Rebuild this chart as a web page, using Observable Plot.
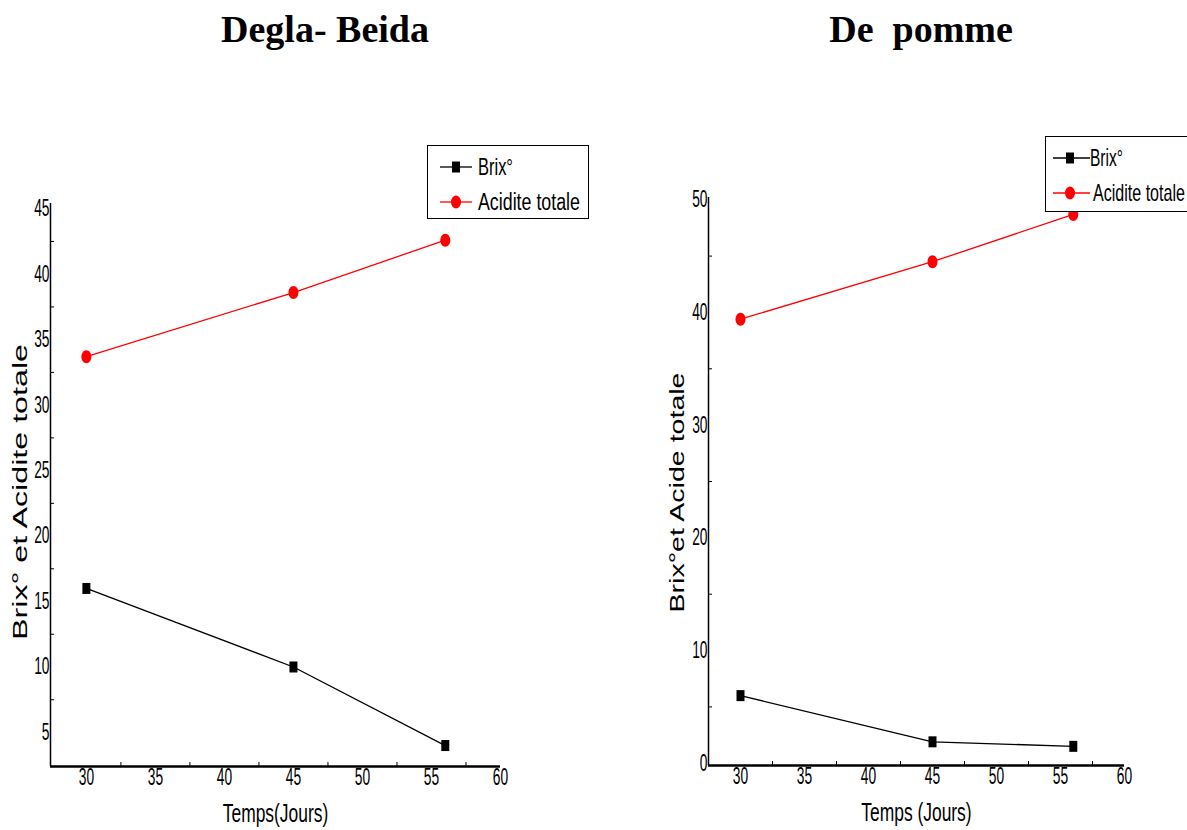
<!DOCTYPE html>
<html>
<head>
<meta charset="utf-8">
<script src="https://cdn.jsdelivr.net/npm/d3@7"></script>
<script src="https://cdn.jsdelivr.net/npm/@observablehq/plot@0.6"></script>
<style>
  html, body { margin: 0; padding: 0; background: #fff; }
  #root { position: relative; width: 1187px; height: 830px; overflow: hidden; background: #fff; }
  .panel { position: absolute; top: 0; }
  .title { position: absolute; top: 10px; line-height: 38px; font-family: "Liberation Serif", "DejaVu Serif", serif; font-weight: bold; font-size: 38px; color: #000; white-space: pre; transform: translateX(-50%); }
  .legend { position: absolute; }
</style>
</head>
<body>
<div id="root"></div>
<script>
// ---- data ----
const days = [30, 45, 56];
const deglaBrix = [16.0, 10.0, 4.0];
const deglaAcid = [33.7, 38.6, 42.6];
const pommeBrix = [6.0, 1.9, 1.5];
const pommeAcid = [39.4, 44.5, 48.7];
const xTicks = [30, 35, 40, 45, 50, 55, 60];
const xMinor = [32.5, 37.5, 42.5, 47.5, 52.5, 57.5];
const deglaYTicks = [5, 10, 15, 20, 25, 30, 35, 40, 45];
const deglaYMinor = [7.5, 12.5, 17.5, 22.5, 27.5, 32.5, 37.5, 42.5];
const pommeYTicks = [0, 10, 20, 30, 40, 50];
const pommeYMinor = [5, 15, 25, 35, 45];
const seriesNames = ["Brix°", "Acidite totale"];
const titles = ["Degla- Beida", "De  pomme"];
const yLabels = ["Brix° et Acidite totale", "Brix°et Acide totale"];
const xLabels = ["Temps(Jours)", "Temps (Jours)"];

const sans = "'Liberation Sans', Arial, sans-serif";
const TICK_NARROW = 0.6;
const LABEL_NARROW = 0.67;

// custom marker shapes (tall rect & ellipse as in original)
const tallSquare = { draw(ctx) { ctx.rect(-4, -5.5, 8, 11); } };
const ellipse = { draw(ctx) {
  const rx = 5, ry = 6.5, k = 0.5523;
  ctx.moveTo(rx, 0);
  ctx.bezierCurveTo(rx, k * ry, k * rx, ry, 0, ry);
  ctx.bezierCurveTo(-k * rx, ry, -rx, k * ry, -rx, 0);
  ctx.bezierCurveTo(-rx, -k * ry, -k * rx, -ry, 0, -ry);
  ctx.bezierCurveTo(k * rx, -ry, rx, -k * ry, rx, 0);
  ctx.closePath();
} };

function condense(el, k) {
  const x = +el.getAttribute("x") || 0, y = +el.getAttribute("y") || 0;
  const t = el.getAttribute("transform") || "";
  el.setAttribute("transform", `${t} translate(${x},${y}) scale(${k},1) translate(${-x},${-y})`);
}

function rows(brix, acid) {
  return days.flatMap((d, i) => [
    { day: d, value: brix[i], series: seriesNames[0] },
    { day: d, value: acid[i], series: seriesNames[1] }
  ]);
}

function panel(cfg) {
  const data = rows(cfg.brix, cfg.acid);
  const brixData = data.filter(d => d.series === seriesNames[0]);
  const acidData = data.filter(d => d.series === seriesNames[1]);
  const svg = Plot.plot({
    width: cfg.width, height: 830,
    marginLeft: cfg.ml, marginRight: cfg.mr, marginTop: cfg.mt, marginBottom: cfg.mb,
    style: { fontFamily: sans, fontSize: "23px", color: "#000", background: "transparent" },
    x: { domain: cfg.xDomain },
    y: { domain: cfg.yDomain },
    marks: [
      Plot.axisX({ ticks: xTicks, tickSize: 0, tickPadding: 2, label: null, fontSize: 23, className: "tk" }),
      Plot.axisX({ ticks: xMinor, tickSize: 4, dy: -4, tickFormat: () => "", label: null }),
      Plot.axisY({ ticks: cfg.yTicks, tickSize: 0, tickPadding: 1, label: null, fontSize: 23, className: "tk" }),
      Plot.axisY({ ticks: cfg.yMinor, tickSize: 4, dx: 4, tickFormat: () => "", label: null }),
      Plot.ruleX([cfg.xDomain[0]], { stroke: "#000", strokeWidth: 1.5 }),
      Plot.ruleY([cfg.yDomain[0]], { stroke: "#000", strokeWidth: 2.5 }),
      Plot.line(acidData, { x: "day", y: "value", stroke: "#ff0000", strokeWidth: 1.3 }),
      Plot.line(brixData, { x: "day", y: "value", stroke: "#000", strokeWidth: 1.3 }),
      Plot.dot(acidData, { x: "day", y: "value", symbol: ellipse, fill: "#ff0000", stroke: "none", r: 5 }),
      Plot.dot(brixData, { x: "day", y: "value", symbol: tallSquare, fill: "#000", stroke: "none", r: 5 }),
      Plot.text([cfg.yLabel], { frameAnchor: "left", rotate: -90, textAnchor: "start", dx: cfg.yLabelDx, dy: cfg.yLabelDy,
        fontFamily: sans, fontSize: 21, fill: "#000", className: "ylab" }),
      Plot.text([cfg.xLabel], { frameAnchor: "bottom", dy: 55, fontSize: 26, fill: "#000", className: "xlab" })
    ]
  });
  const s = d3.select(svg);
  s.selectAll(".tk text").each(function () { condense(this, TICK_NARROW); });
  s.selectAll(".xlab text").each(function () { condense(this, LABEL_NARROW); });
  s.selectAll(".ylab text").attr("textLength", cfg.yLabelLen).attr("lengthAdjust", "spacingAndGlyphs");
  svg.classList.add("panel");
  svg.style.left = cfg.left + "px";
  return svg;
}

const root = document.getElementById("root");
root.appendChild(panel({
  left: 0, width: 600, ml: 50, mr: 100, mt: 203, mb: 64,
  xDomain: [27.4, 60], yDomain: [2.4, 45.4],
  yTicks: deglaYTicks, yMinor: deglaYMinor,
  brix: deglaBrix, acid: deglaAcid,
  yLabel: yLabels[0], yLabelDx: -30, yLabelDy: 155, yLabelLen: 296,
  xLabel: xLabels[0]
}));
root.appendChild(panel({
  left: 600, width: 587, ml: 108, mr: 63, mt: 197, mb: 65,
  xDomain: [27.5, 60], yDomain: [-0.2, 50.2],
  yTicks: pommeYTicks, yMinor: pommeYMinor,
  brix: pommeBrix, acid: pommeAcid,
  yLabel: yLabels[1], yLabelDx: -31, yLabelDy: 131, yLabelLen: 240,
  xLabel: xLabels[1]
}));

// titles
[[titles[0], 325], [titles[1], 921]].forEach(([t, cx]) => {
  const d = document.createElement("div");
  d.className = "title";
  d.textContent = t;
  d.style.left = cx + "px";
  root.appendChild(d);
});

// legends
function legend(x, y, w, h, entries) {
  const s = d3.create("svg").attr("class", "legend").attr("width", w + 2).attr("height", h + 2)
    .style("left", x + "px").style("top", y + "px");
  s.append("rect").attr("x", 0.5).attr("y", 0.5).attr("width", w).attr("height", h)
    .attr("fill", "#fff").attr("stroke", "#000").attr("stroke-width", 1);
  root.appendChild(s.node());
  entries.forEach(e => {
    s.append("line").attr("x1", e.x1).attr("x2", e.x2).attr("y1", e.y).attr("y2", e.y)
      .attr("stroke", e.color).attr("stroke-width", 1.3);
    if (e.shape === "square") {
      s.append("rect").attr("x", e.mx - 4).attr("y", e.y - 5.5).attr("width", 8).attr("height", 11).attr("fill", e.color);
    } else {
      s.append("ellipse").attr("cx", e.mx).attr("cy", e.y).attr("rx", 5).attr("ry", 6.5).attr("fill", e.color);
    }
    const t = s.append("text").attr("x", e.tx).attr("y", e.y).attr("dy", "0.35em")
      .attr("font-family", sans).attr("font-size", 23).attr("fill", "#000").text(e.label);
    const natural = t.node().getComputedTextLength();
    condense(t.node(), e.len / natural);
  });
}
legend(427, 145, 161, 73, [
  { label: seriesNames[0], color: "#000", shape: "square", x1: 13, x2: 45, mx: 29, tx: 51, y: 22, len: 35 },
  { label: seriesNames[1], color: "#ff0000", shape: "circle", x1: 13, x2: 45, mx: 29, tx: 51, y: 57, len: 102 }
]);
legend(1045, 136, 150, 75, [
  { label: seriesNames[0], color: "#000", shape: "square", x1: 8, x2: 45, mx: 25, tx: 45, y: 22, len: 33 },
  { label: seriesNames[1], color: "#ff0000", shape: "circle", x1: 8, x2: 45, mx: 25, tx: 48, y: 57, len: 92 }
]);
</script>
</body>
</html>
